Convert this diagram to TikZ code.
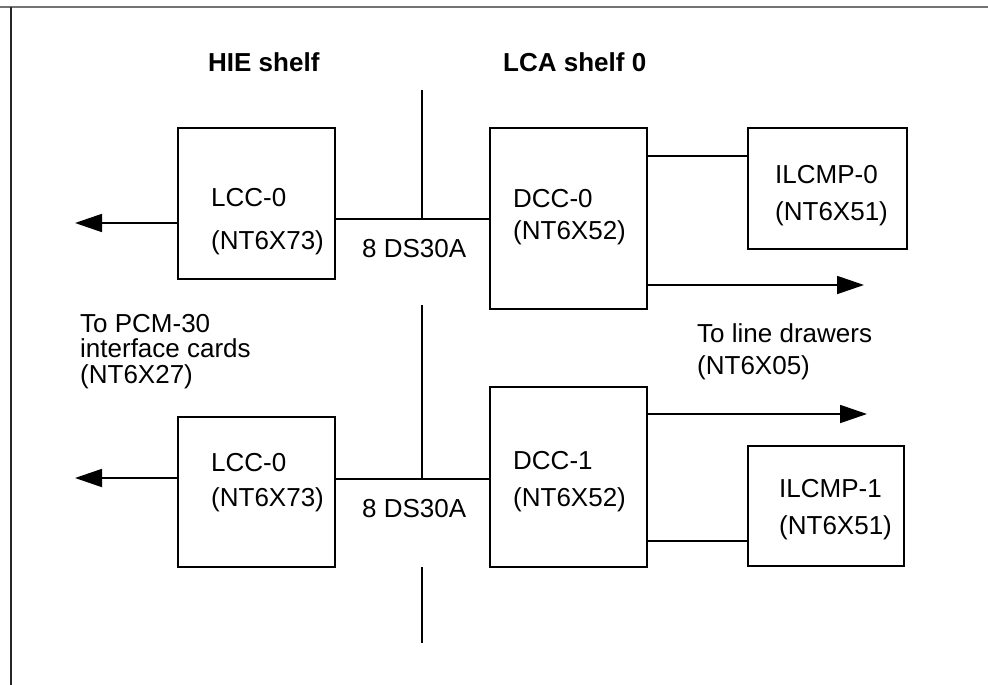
\documentclass[tikz,border=0pt]{standalone}
\usepackage{fontspec}
\setmainfont{Liberation Sans}
\usetikzlibrary{arrows.meta}
\begin{document}
\begin{tikzpicture}[x=1pt,y=-1pt,
  box/.style={draw, line width=2.3pt, inner sep=0pt, outer sep=0pt, anchor=north west},
  conn/.style={line width=1.8pt},
  arr/.style={line width=1.8pt, -{Triangle[length=27pt,width=18pt]}},
  lbl/.style={anchor=base west, inner sep=0pt, font=\fontsize{26}{25.5}\selectfont},
  head/.style={anchor=base west, inner sep=0pt, font=\fontsize{26}{25.5}\selectfont\bfseries}]
\useasboundingbox (0,0) rectangle (988,685);
% frame
\draw[line width=2pt, gray!90!black] (0,7.5) -- (988,7.5);
\draw[line width=2pt, black!85] (11,7.5) -- (11,685);
% headings
\node[head] (hie) at (208,72) {HIE shelf};
\node[head] (lca) at (503,72) {LCA shelf 0};
% boxes
\node[box, minimum width=157pt, minimum height=151pt] (lcc0) at (178,128) {};
\node[box, minimum width=157pt, minimum height=181pt] (dcc0) at (490,128) {};
\node[box, minimum width=159pt, minimum height=121pt] (ilc0) at (748,128) {};
\node[box, minimum width=157pt, minimum height=150pt] (lcc1) at (178,417) {};
\node[box, minimum width=157pt, minimum height=180pt] (dcc1) at (490,387) {};
\node[box, minimum width=156pt, minimum height=120pt] (ilc1) at (748,446) {};
% box texts
\node[lbl] (t1a) at (211,206) {LCC-0};
\node[lbl] (t1b) at (211,249) {(NT6X73)};
\node[lbl] (t2a) at (513,207) {DCC-0};
\node[lbl] (t2b) at (513,239) {(NT6X52)};
\node[lbl] (t3a) at (775,183) {ILCMP-0};
\node[lbl] (t3b) at (775,220) {(NT6X51)};
\node[lbl] (t4a) at (211,471) {LCC-0};
\node[lbl] (t4b) at (211,506) {(NT6X73)};
\node[lbl] (t5a) at (513,469) {DCC-1};
\node[lbl] (t5b) at (513,506) {(NT6X52)};
\node[lbl] (t6a) at (779,497) {ILCMP-1};
\node[lbl] (t6b) at (779,534) {(NT6X51)};
% free labels
\node[lbl] (ds0) at (362,257) {8 DS30A};
\node[lbl] (ds1) at (362,517) {8 DS30A};
\node[lbl] (pcma) at (80,332) {To PCM-30};
\node[lbl] (pcmb) at (80,357) {interface cards};
\node[lbl] (pcmc) at (80,383) {(NT6X27)};
\node[lbl] (lda) at (697,342) {To line drawers};
\node[lbl] (ldb) at (697,374) {(NT6X05)};
% helper coordinates
\coordinate (y1) at (0,219);
\coordinate (y1a) at (0,223);
\coordinate (y2) at (0,479);
\coordinate (y2a) at (0,478);
\coordinate (yi0) at (0,156);
\coordinate (yo0) at (0,285);
\coordinate (yo1) at (0,414);
\coordinate (yi1) at (0,541);
\coordinate (vtop) at (422,90);
\coordinate (vmid) at (422,305);
\coordinate (vbot0) at (422,567);
\coordinate (vbot1) at (422,643);
\coordinate (l0) at (75,223);
\coordinate (l1) at (75,478);
\coordinate (r0) at (864,285);
\coordinate (r1) at (867,414);
% connectors
\draw[conn] (lcc0.east |- y1) -- (dcc0.west |- y1);
\draw[conn] (vtop) -- (vtop |- y1);
\draw[arr] (lcc0.west |- y1a) -- (l0);
\draw[conn] (dcc0.east |- yi0) -- (ilc0.west |- yi0);
\draw[arr] (dcc0.east |- yo0) -- (r0);
\draw[conn] (vmid) -- (vmid |- y2);
\draw[conn] (lcc1.east |- y2) -- (dcc1.west |- y2);
\draw[arr] (lcc1.west |- y2a) -- (l1);
\draw[arr] (dcc1.east |- yo1) -- (r1);
\draw[conn] (dcc1.east |- yi1) -- (ilc1.west |- yi1);
\draw[conn] (vbot0) -- (vbot1);
\end{tikzpicture}
\end{document}
